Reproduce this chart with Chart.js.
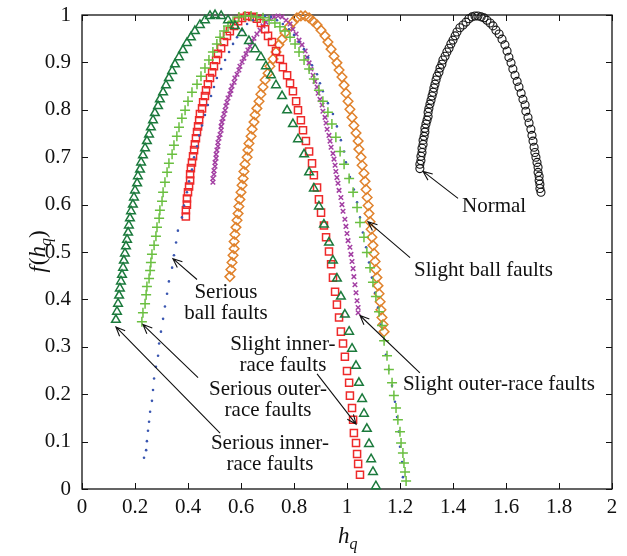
<!DOCTYPE html>
<html>
<head>
<meta charset="utf-8">
<script src="https://cdn.jsdelivr.net/npm/chart.js@4.4.0/dist/chart.umd.min.js"></script>
<style>
  html, body { margin: 0; padding: 0; background: #fff; }
  #wrap { width: 627px; height: 556px; }
</style>
</head>
<body>
<div id="wrap"><canvas id="spectrum" width="627" height="556"></canvas></div>
<script>
// Tick labels
const xTickLabels = ['0', '0.2', '0.4', '0.6', '0.8', '1', '1.2', '1.4', '1.6', '1.8', '2'];
const yTickLabels = ['0', '0.1', '0.2', '0.3', '0.4', '0.5', '0.6', '0.7', '0.8', '0.9', '1'];

// Serious inner-race faults (dark green triangles)
const seriousInnerH = [0.128, 0.132, 0.136, 0.140, 0.143, 0.147, 0.151, 0.155, 0.158, 0.162, 0.166, 0.170, 0.174, 0.177, 0.181, 0.185, 0.192, 0.196, 0.200, 0.208, 0.211, 0.219, 0.223, 0.230, 0.238, 0.245, 0.253, 0.260, 0.268, 0.275, 0.287, 0.294, 0.306, 0.317, 0.328, 0.340, 0.351, 0.366, 0.381, 0.396, 0.411, 0.426, 0.445, 0.464, 0.483, 0.502, 0.525, 0.551, 0.577, 0.604, 0.630, 0.653, 0.675, 0.694, 0.713, 0.732, 0.755, 0.774, 0.796, 0.815, 0.838, 0.857, 0.875, 0.894, 0.913, 0.932, 0.947, 0.962, 0.977, 0.992, 1.008, 1.019, 1.034, 1.045, 1.057, 1.064, 1.075, 1.083, 1.091, 1.098, 1.109];
const seriousInnerF = [0.357, 0.374, 0.391, 0.408, 0.423, 0.438, 0.452, 0.467, 0.482, 0.497, 0.512, 0.526, 0.541, 0.556, 0.571, 0.586, 0.600, 0.615, 0.630, 0.645, 0.660, 0.674, 0.689, 0.704, 0.719, 0.734, 0.748, 0.763, 0.778, 0.793, 0.808, 0.822, 0.837, 0.852, 0.867, 0.882, 0.896, 0.911, 0.926, 0.941, 0.953, 0.966, 0.979, 0.989, 0.998, 1.000, 0.998, 0.989, 0.977, 0.962, 0.945, 0.928, 0.911, 0.892, 0.873, 0.852, 0.829, 0.799, 0.770, 0.738, 0.706, 0.668, 0.634, 0.596, 0.558, 0.520, 0.482, 0.444, 0.406, 0.368, 0.332, 0.296, 0.260, 0.224, 0.190, 0.159, 0.127, 0.095, 0.063, 0.036, 0.006];

// Serious outer-race faults (light green plus)
const seriousOuterH = [0.226, 0.230, 0.238, 0.242, 0.245, 0.253, 0.257, 0.260, 0.264, 0.272, 0.279, 0.283, 0.291, 0.294, 0.302, 0.306, 0.313, 0.321, 0.328, 0.340, 0.347, 0.358, 0.366, 0.377, 0.389, 0.400, 0.415, 0.434, 0.449, 0.464, 0.479, 0.494, 0.509, 0.521, 0.536, 0.551, 0.570, 0.592, 0.615, 0.638, 0.660, 0.683, 0.706, 0.728, 0.747, 0.766, 0.785, 0.804, 0.819, 0.838, 0.857, 0.875, 0.894, 0.909, 0.928, 0.943, 0.958, 0.974, 0.989, 1.008, 1.023, 1.038, 1.049, 1.064, 1.075, 1.087, 1.098, 1.109, 1.121, 1.132, 1.140, 1.151, 1.158, 1.170, 1.177, 1.185, 1.192, 1.200, 1.204, 1.211, 1.215, 1.219, 1.223];
const seriousOuterF = [0.353, 0.372, 0.391, 0.410, 0.427, 0.444, 0.461, 0.478, 0.495, 0.514, 0.533, 0.552, 0.571, 0.588, 0.607, 0.626, 0.647, 0.668, 0.687, 0.706, 0.725, 0.744, 0.763, 0.782, 0.799, 0.818, 0.837, 0.854, 0.871, 0.888, 0.905, 0.922, 0.939, 0.953, 0.966, 0.977, 0.987, 0.996, 0.998, 0.998, 0.996, 0.994, 0.989, 0.983, 0.975, 0.966, 0.953, 0.939, 0.922, 0.905, 0.886, 0.865, 0.841, 0.818, 0.795, 0.770, 0.742, 0.712, 0.685, 0.655, 0.626, 0.594, 0.562, 0.531, 0.499, 0.467, 0.436, 0.406, 0.374, 0.345, 0.313, 0.281, 0.252, 0.224, 0.197, 0.171, 0.146, 0.121, 0.097, 0.076, 0.055, 0.036, 0.017];

// Serious ball faults (blue dots)
const seriousBallH = [0.234, 0.242, 0.245, 0.249, 0.253, 0.257, 0.264, 0.268, 0.272, 0.279, 0.287, 0.291, 0.298, 0.306, 0.313, 0.321, 0.328, 0.340, 0.347, 0.355, 0.362, 0.377, 0.385, 0.396, 0.404, 0.415, 0.423, 0.434, 0.442, 0.453, 0.464, 0.475, 0.487, 0.498, 0.509, 0.525, 0.540, 0.555, 0.570, 0.585, 0.604, 0.623, 0.645, 0.668, 0.691, 0.713, 0.736, 0.758, 0.781, 0.800, 0.819, 0.838, 0.853, 0.868, 0.887, 0.898, 0.909, 0.928, 0.947, 0.962, 0.977, 0.989, 0.996, 1.011, 1.026, 1.038, 1.049, 1.060, 1.072, 1.083, 1.094, 1.106, 1.117, 1.128, 1.140, 1.147, 1.158, 1.170, 1.181, 1.189, 1.196, 1.200, 1.208, 1.211];
const seriousBallF = [0.066, 0.082, 0.101, 0.123, 0.142, 0.163, 0.186, 0.209, 0.233, 0.258, 0.281, 0.307, 0.332, 0.359, 0.385, 0.412, 0.438, 0.467, 0.493, 0.520, 0.545, 0.573, 0.598, 0.626, 0.649, 0.674, 0.700, 0.723, 0.746, 0.767, 0.789, 0.810, 0.829, 0.848, 0.867, 0.886, 0.905, 0.922, 0.939, 0.953, 0.968, 0.981, 0.989, 0.996, 0.998, 0.996, 0.989, 0.981, 0.970, 0.958, 0.943, 0.928, 0.911, 0.894, 0.875, 0.856, 0.839, 0.814, 0.791, 0.765, 0.736, 0.712, 0.689, 0.658, 0.632, 0.605, 0.573, 0.541, 0.510, 0.478, 0.446, 0.414, 0.383, 0.347, 0.315, 0.283, 0.252, 0.218, 0.184, 0.152, 0.121, 0.089, 0.057, 0.025];

// Slight inner-race faults (red squares)
const slightInnerH = [0.392, 0.392, 0.396, 0.396, 0.400, 0.404, 0.408, 0.408, 0.411, 0.415, 0.419, 0.423, 0.426, 0.430, 0.434, 0.438, 0.442, 0.445, 0.453, 0.457, 0.464, 0.468, 0.475, 0.483, 0.491, 0.498, 0.506, 0.513, 0.525, 0.536, 0.547, 0.558, 0.574, 0.589, 0.604, 0.623, 0.642, 0.660, 0.675, 0.691, 0.702, 0.717, 0.732, 0.747, 0.758, 0.774, 0.785, 0.796, 0.808, 0.815, 0.826, 0.834, 0.845, 0.857, 0.868, 0.875, 0.887, 0.894, 0.902, 0.913, 0.921, 0.932, 0.940, 0.947, 0.955, 0.962, 0.970, 0.977, 0.985, 0.992, 1.000, 1.008, 1.011, 1.019, 1.023, 1.026, 1.034, 1.038, 1.042, 1.049];
const slightInnerF = [0.575, 0.588, 0.600, 0.613, 0.626, 0.638, 0.651, 0.664, 0.677, 0.689, 0.702, 0.715, 0.727, 0.740, 0.753, 0.765, 0.778, 0.791, 0.803, 0.816, 0.829, 0.841, 0.854, 0.867, 0.879, 0.892, 0.905, 0.918, 0.930, 0.943, 0.956, 0.966, 0.977, 0.987, 0.994, 0.998, 0.996, 0.992, 0.983, 0.970, 0.956, 0.943, 0.924, 0.907, 0.890, 0.873, 0.856, 0.839, 0.818, 0.799, 0.778, 0.757, 0.734, 0.712, 0.687, 0.662, 0.636, 0.611, 0.583, 0.556, 0.531, 0.501, 0.474, 0.446, 0.416, 0.389, 0.362, 0.332, 0.307, 0.279, 0.249, 0.224, 0.197, 0.171, 0.146, 0.118, 0.097, 0.074, 0.053, 0.030];

// Slight outer-race faults (purple x)
const slightOuterH = [0.494, 0.494, 0.498, 0.498, 0.502, 0.502, 0.506, 0.506, 0.509, 0.513, 0.513, 0.517, 0.521, 0.525, 0.525, 0.528, 0.532, 0.536, 0.540, 0.543, 0.547, 0.551, 0.558, 0.562, 0.566, 0.574, 0.577, 0.585, 0.592, 0.596, 0.604, 0.611, 0.619, 0.626, 0.634, 0.642, 0.649, 0.660, 0.672, 0.683, 0.694, 0.709, 0.725, 0.740, 0.755, 0.770, 0.785, 0.796, 0.808, 0.819, 0.830, 0.842, 0.849, 0.857, 0.864, 0.872, 0.879, 0.887, 0.891, 0.898, 0.906, 0.909, 0.917, 0.921, 0.925, 0.932, 0.936, 0.940, 0.947, 0.951, 0.955, 0.958, 0.962, 0.966, 0.970, 0.977, 0.981, 0.985, 0.992, 0.996, 1.000, 1.004, 1.011, 1.015, 1.019, 1.023, 1.026, 1.030, 1.034, 1.038, 1.042, 1.042];
const slightOuterF = [0.647, 0.655, 0.664, 0.672, 0.681, 0.689, 0.698, 0.706, 0.715, 0.723, 0.731, 0.740, 0.748, 0.757, 0.765, 0.774, 0.782, 0.791, 0.799, 0.808, 0.816, 0.825, 0.833, 0.841, 0.850, 0.858, 0.867, 0.875, 0.884, 0.892, 0.901, 0.909, 0.918, 0.926, 0.934, 0.943, 0.951, 0.960, 0.968, 0.977, 0.985, 0.992, 0.996, 0.998, 0.996, 0.989, 0.981, 0.970, 0.960, 0.947, 0.937, 0.924, 0.911, 0.899, 0.886, 0.873, 0.860, 0.848, 0.835, 0.822, 0.810, 0.797, 0.784, 0.772, 0.759, 0.746, 0.734, 0.721, 0.708, 0.696, 0.683, 0.670, 0.657, 0.645, 0.630, 0.615, 0.600, 0.586, 0.569, 0.554, 0.539, 0.524, 0.510, 0.495, 0.480, 0.465, 0.448, 0.431, 0.414, 0.397, 0.383, 0.372];

// Slight ball faults (orange diamonds)
const slightBallH = [0.558, 0.562, 0.566, 0.570, 0.574, 0.574, 0.577, 0.581, 0.585, 0.589, 0.592, 0.596, 0.600, 0.604, 0.608, 0.611, 0.615, 0.623, 0.626, 0.630, 0.638, 0.642, 0.649, 0.653, 0.660, 0.668, 0.675, 0.683, 0.691, 0.702, 0.709, 0.721, 0.732, 0.743, 0.755, 0.766, 0.781, 0.796, 0.811, 0.826, 0.842, 0.857, 0.872, 0.887, 0.902, 0.917, 0.928, 0.940, 0.951, 0.962, 0.970, 0.981, 0.989, 0.996, 1.004, 1.011, 1.019, 1.026, 1.034, 1.042, 1.045, 1.053, 1.057, 1.064, 1.068, 1.072, 1.076, 1.080, 1.083, 1.087, 1.091, 1.094, 1.098, 1.102, 1.106, 1.109, 1.113, 1.117, 1.121, 1.125, 1.128, 1.132, 1.136, 1.140];
const slightBallF = [0.448, 0.463, 0.478, 0.493, 0.507, 0.522, 0.537, 0.552, 0.567, 0.581, 0.596, 0.611, 0.626, 0.641, 0.655, 0.670, 0.685, 0.700, 0.715, 0.729, 0.744, 0.759, 0.774, 0.789, 0.803, 0.818, 0.833, 0.848, 0.863, 0.877, 0.892, 0.907, 0.922, 0.937, 0.949, 0.962, 0.975, 0.985, 0.994, 0.998, 0.998, 0.994, 0.987, 0.979, 0.968, 0.956, 0.943, 0.928, 0.913, 0.899, 0.884, 0.869, 0.852, 0.835, 0.818, 0.801, 0.784, 0.767, 0.751, 0.734, 0.717, 0.700, 0.683, 0.666, 0.649, 0.632, 0.615, 0.598, 0.581, 0.564, 0.548, 0.531, 0.514, 0.497, 0.480, 0.463, 0.446, 0.429, 0.412, 0.395, 0.378, 0.362, 0.347, 0.332];

// Normal (black circles)
const normalH = [1.275, 1.275, 1.279, 1.279, 1.283, 1.283, 1.287, 1.287, 1.291, 1.294, 1.294, 1.298, 1.302, 1.306, 1.306, 1.309, 1.313, 1.317, 1.321, 1.325, 1.328, 1.332, 1.336, 1.340, 1.347, 1.351, 1.358, 1.362, 1.370, 1.377, 1.385, 1.392, 1.400, 1.408, 1.415, 1.426, 1.438, 1.449, 1.460, 1.472, 1.483, 1.494, 1.506, 1.517, 1.528, 1.540, 1.551, 1.562, 1.574, 1.585, 1.596, 1.604, 1.611, 1.619, 1.626, 1.634, 1.642, 1.649, 1.657, 1.664, 1.672, 1.675, 1.683, 1.687, 1.694, 1.698, 1.702, 1.706, 1.709, 1.713, 1.717, 1.721, 1.721, 1.725, 1.725, 1.728, 1.728, 1.732];
const normalF = [0.676, 0.685, 0.693, 0.702, 0.710, 0.719, 0.727, 0.736, 0.744, 0.753, 0.761, 0.770, 0.778, 0.786, 0.795, 0.803, 0.812, 0.820, 0.829, 0.837, 0.846, 0.854, 0.863, 0.871, 0.879, 0.888, 0.896, 0.905, 0.913, 0.922, 0.930, 0.939, 0.947, 0.956, 0.964, 0.973, 0.979, 0.985, 0.992, 0.996, 0.998, 0.998, 0.996, 0.994, 0.989, 0.983, 0.977, 0.968, 0.960, 0.949, 0.937, 0.924, 0.911, 0.899, 0.886, 0.873, 0.860, 0.848, 0.835, 0.822, 0.810, 0.797, 0.784, 0.772, 0.759, 0.746, 0.734, 0.721, 0.710, 0.700, 0.689, 0.679, 0.668, 0.660, 0.651, 0.643, 0.634, 0.626];

// Callout labels: arrow tail -> tip in data units, text anchored in data units
const notes = [
    { lines: ['Normal'], tip: [1.287, 0.670], tail: [1.419, 0.613], at: [1.434, 0.596], align: 'left' },
    { lines: ['Slight ball faults'], tip: [1.079, 0.564], tail: [1.238, 0.488], at: [1.253, 0.461], align: 'left' },
    { lines: ['Slight outer-race faults'], tip: [1.049, 0.366], tail: [1.275, 0.245], at: [1.211, 0.220], align: 'left' },
    { lines: ['Slight inner-', 'race faults'], tip: [1.034, 0.137], tail: [0.887, 0.243], at: [0.758, 0.304], align: 'center' },
    { lines: ['Serious outer-', 'race faults'], tip: [0.230, 0.347], tail: [0.438, 0.235], at: [0.702, 0.209], align: 'center' },
    { lines: ['Serious inner-', 'race faults'], tip: [0.128, 0.342], tail: [0.521, 0.118], at: [0.709, 0.097], align: 'center' },
    { lines: ['Serious', 'ball faults'], tip: [0.343, 0.486], tail: [0.434, 0.442], at: [0.543, 0.414], align: 'center' }
];

const SERIF = '"Liberation Serif", "DejaVu Serif", serif';

function toPoints(hs, fs) {
    return hs.map((h, i) => ({ x: h, y: fs[i] }));
}

function markerSet(label, hs, fs, style, color, radius, width, fill) {
    return {
        label: label,
        data: toPoints(hs, fs),
        showLine: false,
        pointStyle: style,
        pointRadius: radius,
        pointHoverRadius: radius,
        pointBorderWidth: width,
        borderColor: color,
        backgroundColor: fill || 'rgba(0,0,0,0)',
        clip: 12
    };
}

// frame with inward ticks, drawn under the markers
const framePlugin = {
    id: 'framePlugin',
    beforeDatasetsDraw(chart) {
        const { ctx, chartArea: a, scales } = chart;
        ctx.save();
        ctx.strokeStyle = '#111';
        ctx.lineWidth = 1.3;
        ctx.strokeRect(a.left, a.top, a.right - a.left, a.bottom - a.top);
        ctx.lineWidth = 1;
        ctx.beginPath();
        scales.x.ticks.forEach(t => {
            const px = Math.round(scales.x.getPixelForValue(t.value)) + 0.5;
            ctx.moveTo(px, a.bottom); ctx.lineTo(px, a.bottom - 6);
            ctx.moveTo(px, a.top); ctx.lineTo(px, a.top + 6);
        });
        scales.y.ticks.forEach(t => {
            const py = Math.round(scales.y.getPixelForValue(t.value)) + 0.5;
            ctx.moveTo(a.left, py); ctx.lineTo(a.left + 6, py);
            ctx.moveTo(a.right, py); ctx.lineTo(a.right - 6, py);
        });
        ctx.stroke();
        ctx.restore();
    }
};

// callouts and axis titles, drawn over the markers
const notesPlugin = {
    id: 'notesPlugin',
    afterDatasetsDraw(chart) {
        const { ctx, scales: { x, y }, chartArea: a } = chart;
        ctx.save();
        ctx.strokeStyle = '#111';
        ctx.fillStyle = '#111';
        ctx.lineWidth = 1.1;
        notes.forEach(n => {
            const tx = x.getPixelForValue(n.tip[0]), ty = y.getPixelForValue(n.tip[1]);
            const sx = x.getPixelForValue(n.tail[0]), sy = y.getPixelForValue(n.tail[1]);
            const ang = Math.atan2(ty - sy, tx - sx);
            ctx.beginPath();
            ctx.moveTo(sx, sy); ctx.lineTo(tx, ty);
            ctx.moveTo(tx - 10 * Math.cos(ang - 0.4), ty - 10 * Math.sin(ang - 0.4));
            ctx.lineTo(tx, ty);
            ctx.lineTo(tx - 10 * Math.cos(ang + 0.4), ty - 10 * Math.sin(ang + 0.4));
            ctx.stroke();

            ctx.font = '21px ' + SERIF;
            ctx.textAlign = n.align;
            ctx.textBaseline = 'middle';
            const px = x.getPixelForValue(n.at[0]);
            const py = y.getPixelForValue(n.at[1]);
            n.lines.forEach((line, i) => ctx.fillText(line, px, py + i * 21));
        });

        // x title: h_q
        const cx = (a.left + a.right) / 2;
        ctx.textAlign = 'left';
        ctx.textBaseline = 'alphabetic';
        ctx.font = 'italic 23px ' + SERIF;
        const hw = ctx.measureText('h').width;
        ctx.fillText('h', cx - 9, 543);
        ctx.font = 'italic 16px ' + SERIF;
        ctx.fillText('q', cx - 9 + hw, 549);

        // y title: f(h_q), rotated
        ctx.translate(45, (a.top + a.bottom) / 2);
        ctx.rotate(-Math.PI / 2);
        const parts = [
            ['f', 'italic 23px ', 0], ['(', '23px ', 0], ['h', 'italic 23px ', 0],
            ['q', 'italic 16px ', 6], [')', '23px ', 0]
        ];
        let total = 0;
        parts.forEach(p => { ctx.font = p[1] + SERIF; total += ctx.measureText(p[0]).width; });
        let off = -total / 2;
        parts.forEach(p => {
            ctx.font = p[1] + SERIF;
            ctx.fillText(p[0], off, p[2]);
            off += ctx.measureText(p[0]).width + (p[0] === 'f' ? 1 : 0);
        });
        ctx.restore();
    }
};

const chart = new Chart(document.getElementById('spectrum'), {
    type: 'scatter',
    data: {
        datasets: [
            markerSet('Serious inner-race faults', seriousInnerH, seriousInnerF, 'triangle', '#1b7a3c', 5, 1.5),
            markerSet('Serious outer-race faults', seriousOuterH, seriousOuterF, 'cross', '#6abf40', 5, 1.5),
            markerSet('Serious ball faults', seriousBallH, seriousBallF, 'circle', '#3a56b0', 1.3, 0, '#3a56b0'),
            markerSet('Slight inner-race faults', slightInnerH, slightInnerF, 'rect', '#ee2a2a', 5, 1.5),
            markerSet('Slight outer-race faults', slightOuterH, slightOuterF, 'crossRot', '#a33fa3', 3.2, 1.5),
            markerSet('Slight ball faults', slightBallH, slightBallF, 'rectRot', '#e0822c', 4.8, 1.5),
            markerSet('Normal', normalH, normalF, 'circle', '#111', 4, 1.1)
        ]
    },
    options: {
        responsive: false,
        animation: false,
        events: [],
        layout: { padding: { top: 15, right: 15, left: 0, bottom: 0 } },
        plugins: { legend: { display: false }, tooltip: { enabled: false } },
        scales: {
            x: {
                type: 'linear', min: 0, max: 2,
                grid: { display: false, drawTicks: false },
                border: { display: false },
                ticks: {
                    stepSize: 0.2, padding: 6, color: '#111',
                    font: { family: SERIF, size: 21 },
                    callback: (v, i) => xTickLabels[i]
                },
                afterFit: s => { s.height = 67; s.paddingLeft = 0; s.paddingRight = 0; }
            },
            y: {
                type: 'linear', min: 0, max: 1,
                grid: { display: false, drawTicks: false },
                border: { display: false },
                ticks: {
                    stepSize: 0.1, padding: 11, color: '#111',
                    font: { family: SERIF, size: 21 },
                    callback: (v, i) => yTickLabels[i]
                },
                afterFit: s => { s.width = 82; s.paddingTop = 0; s.paddingBottom = 0; }
            }
        }
    },
    plugins: [framePlugin, notesPlugin]
});
</script>
</body>
</html>
